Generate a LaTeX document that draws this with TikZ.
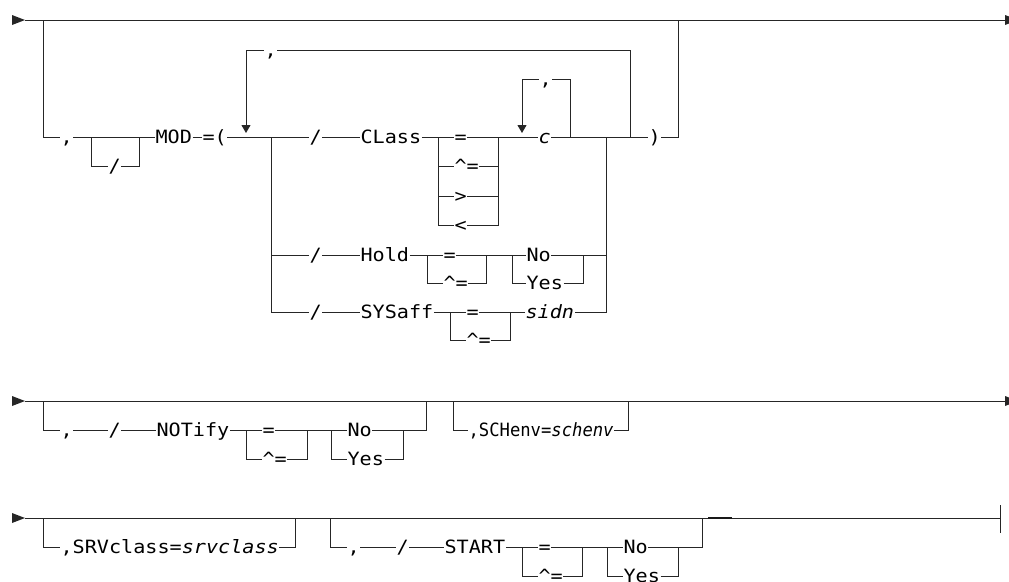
\documentclass[tikz,border=0pt]{standalone}
\usepackage{fontspec}
\usetikzlibrary{arrows.meta}
\newfontfamily\rrfont{DejaVu Sans Mono}[FakeStretch=1.1]
\newfontfamily\rrnarrow{DejaVu Sans Mono}[FakeStretch=0.94]
\begin{document}
\begin{tikzpicture}[
    x=1pt, y=-1pt,
    rr/.style={draw=black!85, line width=1pt},
    loopback/.style={rr, -{Triangle[width=9pt,length=8pt]}},
    kw/.style={anchor=west, inner sep=0pt, outer sep=0.6pt, text=black,
        text height=13pt, text depth=0pt, font=\fontsize{18.3}{20}\rrfont},
    var/.style={kw, font=\fontsize{18.3}{20}\rrfont\itshape},
    kwn/.style={kw, font=\fontsize{18.3}{20}\rrnarrow}
]
\useasboundingbox (0,0) rectangle (1009,581);
% start and end marks
\foreach \y in {20,401,518}
    \fill[black!85] (12,\y-5) -- (25,\y) -- (12,\y+5) -- cycle;
\foreach \y in {20,401}
    \fill[black!85] (1005,\y-5) -- (1018,\y) -- (1005,\y+5) -- cycle;

% Row 1: MOD list
\coordinate (in1) at (25,20);
\coordinate (out1) at (1005,20);
\draw[rr] (in1) -- (out1);
\coordinate (opt1L) at (43,20);
\coordinate (opt1R) at (678,20);
\node[kw] (comma1) at (60,137) {,};
\node[kw] (slashA) at (108,166) {/};
\node[kw] (mod) at (155,137) {MOD};
\node[kw] (eqp) at (202,137) {=(};
\coordinate (slL) at (91,137);
\coordinate (slR) at (139,137);
\draw[rr] (opt1L) |- (comma1.west);
\draw[rr] (comma1.east) -- (mod.west);
\draw[rr] (slL) |- (slashA.west);
\draw[rr] (slashA.east) -| (slR);
\draw[rr] (mod.east) -- (eqp.west);
% repeat loop round the choice
\coordinate (chL) at (271,137);
\coordinate (chR) at (606,137);
\coordinate (chR2) at (630,137);
\coordinate (rep1a) at (246,50);
\node[kw] (comma2) at (264,50) {,};
\draw[rr] (eqp.east) -- (chL);
\draw[loopback] (rep1a) -- ++(0,83);
\draw[rr] (rep1a) -- (comma2.west);
\draw[rr] (comma2.east) -| (chR2);
\node[kw] (slC) at (309,137) {/};
\node[kw] (slH) at (309,255) {/};
\node[kw] (slS) at (309,312) {/};
\draw[rr] (chL) -- (slC.west);
\draw[rr] (chL |- slH) -- (slH.west);
\draw[rr] (chL) |- (slS.west);
% CLass
\node[kw] (class) at (360,137) {CLass};
\coordinate (clL) at (438,137);
\coordinate (clR) at (498,137);
\node[kw] (clEq) at (454,137) {=};
\node[kw] (clNe) at (454,166) {\textasciicircum=};
\node[kw] (clGt) at (454,196) {>};
\node[kw] (clLt) at (454,225) {<};
\draw[rr] (slC.east) -- (class.west);
\draw[rr] (class.east) -- (clEq.west);
\draw[rr] (clL) |- (clLt.west);
\draw[rr] (clL |- clNe) -- (clNe.west);
\draw[rr] (clL |- clGt) -- (clGt.west);
\draw[rr] (clNe.east) -- (clR |- clNe);
\draw[rr] (clGt.east) -- (clR |- clGt);
\draw[rr] (clLt.east) -| (clR);
\node[var] (cval) at (538,137) {c};
\coordinate (rep2a) at (522,79);
\coordinate (rep2R) at (570,137);
\node[kw] (comma3) at (539,79) {,};
\draw[rr] (clEq.east) -- (cval.west);
\draw[loopback] (rep2a) -- ++(0,54);
\draw[rr] (rep2a) -- (comma3.west);
\draw[rr] (comma3.east) -| (rep2R);
\draw[rr] (cval.east) -- (chR2);
\node[kw] (rparen) at (648,137) {)};
\draw[rr] (chR2) -- (rparen.west);
\draw[rr] (rparen.east) -| (opt1R);
% Hold
\node[kw] (hold) at (360,255) {Hold};
\coordinate (hoL) at (427,255);
\coordinate (hoR) at (486,255);
\node[kw] (hoEq) at (443,255) {=};
\node[kw] (hoNe) at (443,283) {\textasciicircum=};
\coordinate (hynL) at (512,255);
\coordinate (hynR) at (583,255);
\node[kw] (hoNo) at (526,255) {No};
\node[kw] (hoYes) at (526,283) {Yes};
\draw[rr] (slH.east) -- (hold.west);
\draw[rr] (hold.east) -- (hoEq.west);
\draw[rr] (hoEq.east) -- (hoNo.west);
\draw[rr] (hoL) |- (hoNe.west);
\draw[rr] (hoNe.east) -| (hoR);
\draw[rr] (hynL) |- (hoYes.west);
\draw[rr] (hoYes.east) -| (hynR);
\draw[rr] (hoNo.east) -- (chR |- hoNo);
% SYSaff
\node[kw] (sysaff) at (360,312) {SYSaff};
\coordinate (syL) at (450,312);
\coordinate (syR) at (510,312);
\node[kw] (syEq) at (466,312) {=};
\node[kw] (syNe) at (466,340) {\textasciicircum=};
\node[var] (sidn) at (525,312) {sidn};
\draw[rr] (slS.east) -- (sysaff.west);
\draw[rr] (sysaff.east) -- (syEq.west);
\draw[rr] (syEq.east) -- (sidn.west);
\draw[rr] (syL) |- (syNe.west);
\draw[rr] (syNe.east) -| (syR);
\draw[rr] (chR) |- (sidn.east);

% Row 2: NOTify, SCHenv
\coordinate (in2) at (25,401);
\coordinate (out2) at (1005,401);
\draw[rr] (in2) -- (out2);
\coordinate (nfL) at (43,401);
\coordinate (nfR) at (426,401);
\node[kw] (comma4) at (60,430) {,};
\node[kw] (slN) at (108,430) {/};
\node[kw] (notify) at (156,430) {NOTify};
\coordinate (nfoL) at (246,430);
\coordinate (nfoR) at (307,430);
\node[kw] (nfEq) at (262,430) {=};
\node[kw] (nfNe) at (262,459) {\textasciicircum=};
\coordinate (nfyL) at (331,430);
\coordinate (nfyR) at (403,430);
\node[kw] (nfNo) at (347,430) {No};
\node[kw] (nfYes) at (347,459) {Yes};
\draw[rr] (nfL) |- (comma4.west);
\draw[rr] (comma4.east) -- (slN.west);
\draw[rr] (slN.east) -- (notify.west);
\draw[rr] (notify.east) -- (nfEq.west);
\draw[rr] (nfEq.east) -- (nfNo.west);
\draw[rr] (nfoL) |- (nfNe.west);
\draw[rr] (nfNe.east) -| (nfoR);
\draw[rr] (nfyL) |- (nfYes.west);
\draw[rr] (nfYes.east) -| (nfyR);
\draw[rr] (nfNo.east) -| (nfR);
\coordinate (scL) at (453,401);
\coordinate (scR) at (628,401);
\node[kwn] (schenv) at (468,430) {,SCHenv=\textit{schenv}};
\draw[rr] (scL) |- (schenv.west);
\draw[rr] (schenv.east) -| (scR);

% Row 3: SRVclass, START
\coordinate (in3) at (25,518);
\coordinate (out3) at (1000,518);
\coordinate (bar3a) at (1000,505);
\coordinate (bar3b) at (1000,533);
\draw[rr] (in3) -- (out3);
\draw[rr] (bar3a) -- (bar3b);
\draw[line width=2pt, black!90] (708,518) -- (732,518);
\coordinate (svL) at (43,518);
\coordinate (svR) at (295,518);
\node[kw] (srv) at (60,547) {,SRVclass=\textit{srvclass}};
\draw[rr] (svL) |- (srv.west);
\draw[rr] (srv.east) -| (svR);
\coordinate (stL) at (330,518);
\coordinate (stR) at (702,518);
\node[kw] (comma5) at (347,547) {,};
\node[kw] (slT) at (396,547) {/};
\node[kw] (start) at (444,547) {START};
\coordinate (stoL) at (522,547);
\coordinate (stoR) at (582,547);
\node[kw] (stEq) at (538,547) {=};
\node[kw] (stNe) at (538,576) {\textasciicircum=};
\coordinate (styL) at (607,547);
\coordinate (styR) at (678,547);
\node[kw] (stNo) at (623,547) {No};
\node[kw] (stYes) at (623,576) {Yes};
\draw[rr] (stL) |- (comma5.west);
\draw[rr] (comma5.east) -- (slT.west);
\draw[rr] (slT.east) -- (start.west);
\draw[rr] (start.east) -- (stEq.west);
\draw[rr] (stEq.east) -- (stNo.west);
\draw[rr] (stoL) |- (stNe.west);
\draw[rr] (stNe.east) -| (stoR);
\draw[rr] (styL) |- (stYes.west);
\draw[rr] (stYes.east) -| (styR);
\draw[rr] (stNo.east) -| (stR);
\end{tikzpicture}
\end{document}
